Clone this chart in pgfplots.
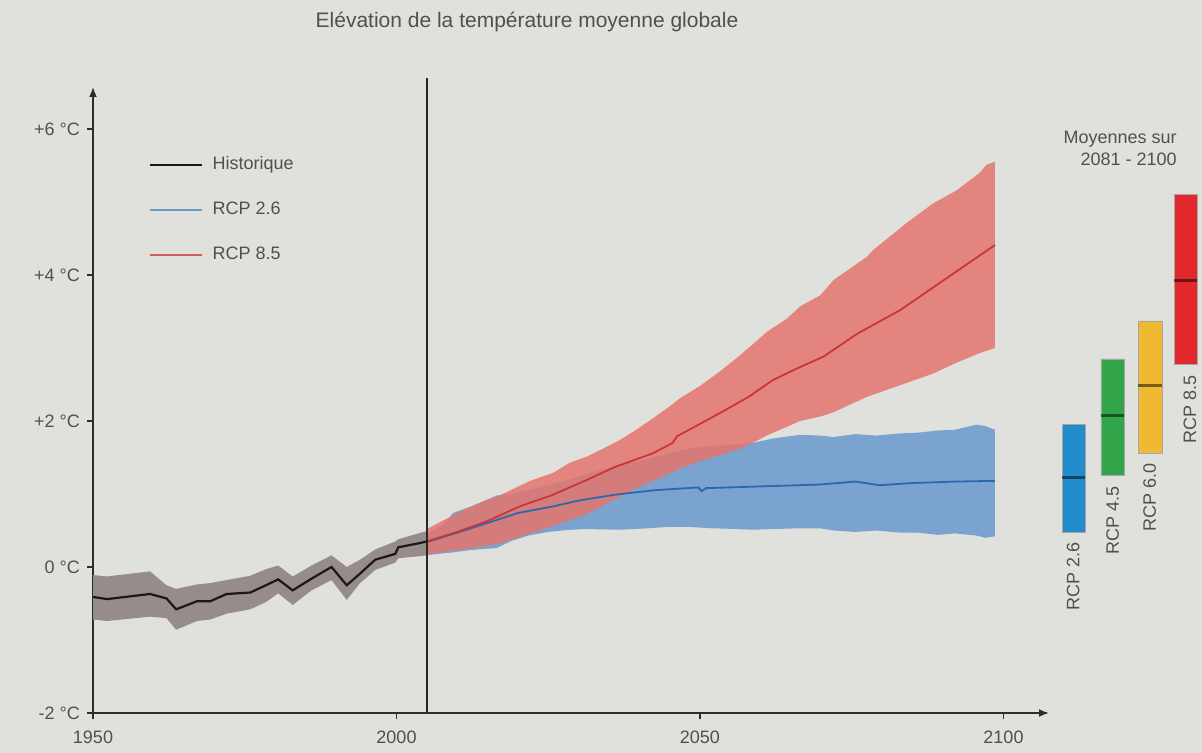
\documentclass[border=0pt]{standalone}
\usepackage{fontspec}
\setmainfont{Liberation Sans}
\usepackage{pgfplots}
\usepackage{pgfplotstable}
\pgfplotsset{compat=1.18}
\usepgfplotslibrary{fillbetween}
\usetikzlibrary{arrows.meta}

\definecolor{papier}{RGB}{224,224,221}
\definecolor{bandgris}{RGB}{150,140,138}
\definecolor{bandbleu}{RGB}{122,163,208}
\definecolor{bandrouge}{RGB}{228,118,110}
\definecolor{ligbleu}{RGB}{45,105,170}
\definecolor{ligrouge}{RGB}{200,55,55}
\definecolor{barbleu}{RGB}{35,140,205}
\definecolor{barvert}{RGB}{50,165,75}
\definecolor{barjaune}{RGB}{240,185,50}
\definecolor{barrouge}{RGB}{226,40,45}
\definecolor{axegris}{RGB}{45,45,45}
\definecolor{textegris}{RGB}{80,80,80}

% historique : moyenne et enveloppe
\pgfplotstableread{
year  T     lo     hi
1950   -0.41 -0.72 -0.11
1952.3 -0.44 -0.74 -0.13
1959.4 -0.37 -0.68 -0.06
1962.1 -0.43 -0.70 -0.25
1963.7 -0.58 -0.86 -0.30
1967.1 -0.47 -0.74 -0.24
1969.3 -0.47 -0.72 -0.22
1972.0 -0.37 -0.64 -0.18
1975.9 -0.35 -0.58 -0.12
1978.5 -0.25 -0.48 -0.03
1980.5 -0.17 -0.36  0.02
1982.9 -0.32 -0.52 -0.13
1986.0 -0.16 -0.32  0.02
1989.3  0.00 -0.18  0.16
1991.8 -0.25 -0.45  0.00
1994.0 -0.09 -0.22  0.10
1996.5  0.10 -0.04  0.24
1999.8  0.18  0.06  0.35
2000.3  0.27  0.12  0.38
2004.0  0.33  0.15  0.47
2005    0.35  0.16  0.49
}\histo

% RCP 2.6 : enveloppe
\pgfplotstableread{
year   lo   hi
2005   0.16 0.45
2008   0.19 0.60
2009.3 0.20 0.74
2012   0.23 0.82
2014.9 0.25 0.92
2016.5 0.26 0.98
2019   0.36 1.00
2021.7 0.43 1.05
2025   0.48 1.12
2028.6 0.51 1.20
2031.2 0.52 1.27
2036.8 0.51 1.40
2041.4 0.53 1.48
2045   0.55 1.56
2048   0.55 1.62
2052   0.53 1.66
2056   0.52 1.68
2058.7 0.51 1.70
2062   0.52 1.76
2066.5 0.53 1.81
2069.8 0.53 1.80
2072   0.50 1.78
2075.6 0.48 1.82
2079   0.50 1.80
2083   0.47 1.83
2086   0.47 1.84
2089.2 0.44 1.87
2092   0.46 1.88
2095.6 0.43 1.95
2097   0.40 1.93
2098.6 0.42 1.88
}\bandA

% RCP 2.6 : moyenne
\pgfplotstableread{
year   T
2005   0.34
2010   0.47
2014.9 0.60
2020   0.74
2025.8 0.83
2030   0.91
2036   0.99
2042.3 1.05
2049.7 1.09
2050.3 1.04
2051   1.08
2058.7 1.10
2069.8 1.13
2075.6 1.17
2079.6 1.12
2085   1.15
2092   1.17
2098.6 1.18
}\moyA

% RCP 8.5 : enveloppe
\pgfplotstableread{
year   lo   hi
2005   0.17 0.52
2008   0.21 0.65
2011   0.24 0.78
2014.9 0.29 0.92
2017   0.32 0.98
2020   0.40 1.10
2022   0.46 1.18
2025.8 0.56 1.29
2028.6 0.64 1.43
2031.3 0.72 1.51
2034   0.84 1.62
2036.8 0.96 1.74
2039.5 1.08 1.88
2042.3 1.18 2.04
2045   1.28 2.20
2046.7 1.35 2.31
2050   1.45 2.48
2053.3 1.53 2.68
2056.6 1.62 2.90
2058.7 1.70 3.05
2061   1.80 3.22
2064.3 1.92 3.40
2066.5 2.00 3.57
2069.8 2.06 3.72
2072   2.12 3.93
2077.5 2.33 4.25
2078.5 2.36 4.34
2084   2.52 4.71
2088.4 2.65 4.98
2092.3 2.80 5.16
2096.1 2.93 5.40
2097.2 2.96 5.51
2098.6 3.00 5.55
}\bandB

% RCP 8.5 : moyenne
\pgfplotstableread{
year   T
2005   0.35
2010   0.48
2015   0.63
2020.3 0.83
2025.5 0.98
2031.3 1.19
2036   1.37
2042.3 1.56
2045.5 1.70
2046.2 1.79
2050   1.96
2053.3 2.11
2058   2.33
2062   2.56
2066   2.72
2070.3 2.88
2076   3.20
2083   3.52
2090   3.92
2098.6 4.41
}\moyB

\begin{document}
\begin{tikzpicture}
\begin{axis}[
  at={(0,0)}, anchor=south west,
  scale only axis, width=478pt, height=313pt,
  xmin=1950, xmax=2107.5, ymin=-2, ymax=6.575,
  axis lines=left,
  axis line style={draw=axegris, line width=0.9pt, -{Latex[length=5pt,width=4pt]}},
  xtick={1950,2000,2050,2100},
  xticklabels={1950,2000,2050,2100},
  ytick={-2,0,2,4,6},
  yticklabels={-2 °C,0 °C,+2 °C,+4 °C,+6 °C},
  tick align=outside, major tick length=3pt,
  tick style={draw=axegris, line width=0.7pt},
  tick label style={font=\fontsize{9}{11}\selectfont, text=textegris},
  xticklabel style={yshift=-2.5pt},
  clip=false,
  legend style={at={(rel axis cs:0,1)}, anchor=north west,
    xshift=27.5pt, yshift=-34pt, draw=none, fill=none, inner sep=0pt,
    row sep=13pt, column sep=5pt,
    font=\fontsize{9}{11}\selectfont, text=textegris,
    nodes={inner sep=0pt, text height=7pt, text depth=2.5pt}},
  legend cell align=left,
  legend image code/.code={\draw[#1] (0pt,0pt) -- (26pt,0pt);},
]
% fond papier sous tout le reste
\begin{pgfonlayer}{axis background}
\fill[papier] (axis cs:1934.68,-2.548) rectangle (axis cs:2132.70,7.767);
\end{pgfonlayer}
% RCP 2.6
\addplot[draw=none, name path=ha, forget plot] table[x=year, y=hi] {\bandA};
\addplot[draw=none, name path=la, forget plot] table[x=year, y=lo] {\bandA};
\addplot[fill=bandbleu, draw=none, forget plot] fill between[of=ha and la];
\addplot[ligbleu, line width=0.9pt, forget plot] table[x=year, y=T] {\moyA};
% RCP 8.5
\addplot[draw=none, name path=hb, forget plot] table[x=year, y=hi] {\bandB};
\addplot[draw=none, name path=lb, forget plot] table[x=year, y=lo] {\bandB};
\addplot[fill=bandrouge, fill opacity=0.85, draw=none, forget plot] fill between[of=hb and lb];
\addplot[ligrouge, line width=0.9pt, forget plot] table[x=year, y=T] {\moyB};
% historique
\addplot[draw=none, name path=hh, forget plot] table[x=year, y=hi] {\histo};
\addplot[draw=none, name path=lh, forget plot] table[x=year, y=lo] {\histo};
\addplot[fill=bandgris, draw=none, forget plot] fill between[of=hh and lh];
\addplot[black!90, line width=1.1pt, forget plot] table[x=year, y=T] {\histo};
% trait vertical 2005
\addplot[black!85, line width=0.7pt, forget plot] coordinates {(2005,-2) (2005,6.70)};

% moyennes 2081-2100
\addplot[fill=barbleu, draw=black!35, line width=0.3pt, forget plot] coordinates {(2109.64,0.48) (2113.43,0.48) (2113.43,1.95) (2109.64,1.95) (2109.64,0.48)};
\addplot[fill=barvert, draw=black!35, line width=0.3pt, forget plot] coordinates {(2116.06,1.25) (2119.85,1.25) (2119.85,2.85) (2116.06,2.85) (2116.06,1.25)};
\addplot[fill=barjaune, draw=black!35, line width=0.3pt, forget plot] coordinates {(2122.16,1.56) (2126.11,1.56) (2126.11,3.37) (2122.16,3.37) (2122.16,1.56)};
\addplot[fill=barrouge, draw=black!35, line width=0.3pt, forget plot] coordinates {(2128.09,2.77) (2131.93,2.77) (2131.93,5.10) (2128.09,5.10) (2128.09,2.77)};
\addplot[black, opacity=0.5, line width=1.5pt, forget plot] coordinates {(2109.64,1.22) (2113.43,1.22)};
\addplot[black, opacity=0.5, line width=1.5pt, forget plot] coordinates {(2116.06,2.08) (2119.85,2.08)};
\addplot[black, opacity=0.5, line width=1.5pt, forget plot] coordinates {(2122.16,2.48) (2126.11,2.48)};
\addplot[black, opacity=0.5, line width=1.5pt, forget plot] coordinates {(2128.09,3.93) (2131.93,3.93)};

\addlegendimage{black!90, line width=1.1pt}
\addlegendentry{Historique}
\addlegendimage{ligbleu!70, line width=1.1pt}
\addlegendentry{RCP 2.6}
\addlegendimage{ligrouge!80, line width=1.1pt}
\addlegendentry{RCP 8.5}

\node[font=\fontsize{10.5}{12}\selectfont, text=textegris] at (axis cs:2021.5,7.47) {Elévation de la température moyenne globale};
\node[align=right, anchor=east, inner sep=0pt, font=\fontsize{9}{11}\selectfont, text=textegris] at (axis cs:2128.6,5.73) {Moyennes sur\\2081 - 2100};
\begin{scope}[every node/.style={inner sep=0pt, font=\fontsize{9}{11}\selectfont, text=textegris}]
\node[yshift=-5pt, rotate=90, anchor=east] at (axis cs:2111.5,0.48) {RCP 2.6};
\node[yshift=-5pt, rotate=90, anchor=east] at (axis cs:2118.0,1.25) {RCP 4.5};
\node[yshift=-5pt, rotate=90, anchor=east] at (axis cs:2124.1,1.56) {RCP 6.0};
\node[yshift=-5pt, rotate=90, anchor=east] at (axis cs:2130.7,2.77) {RCP 8.5};
\end{scope}
\end{axis}
\pgfresetboundingbox
\useasboundingbox (-46.5pt,-20pt) rectangle (554.5pt,356.5pt);
\end{tikzpicture}
\end{document}
